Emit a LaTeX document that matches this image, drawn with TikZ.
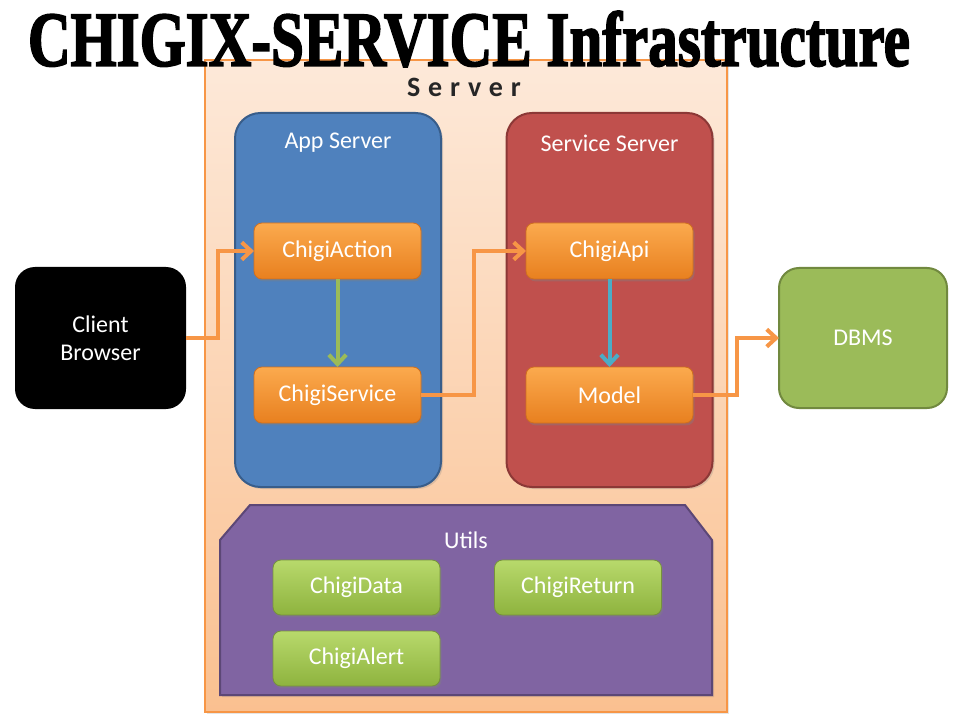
\documentclass[tikz,border=0pt]{standalone}
\usepackage{fontspec}
\setmainfont{Carlito}
\newfontfamily\titlefont[BoldFont={Liberation Serif Bold}, BoldFeatures={FakeBold=2.5}]{Liberation Serif}
\newfontfamily\serverfont[LetterSpace=28]{Carlito}
\usetikzlibrary{arrows.meta,shadows}
\definecolor{srvtop}{HTML}{FDE9D9}
\definecolor{srvbot}{HTML}{FAC090}
\definecolor{srvborder}{HTML}{F79646}
\definecolor{appfill}{HTML}{4F81BD}
\definecolor{appborder}{HTML}{385D8A}
\definecolor{svcfill}{HTML}{C0504D}
\definecolor{svcborder}{HTML}{8C3836}
\definecolor{utilfill}{HTML}{8064A2}
\definecolor{utilborder}{HTML}{5C4776}
\definecolor{orgtop}{HTML}{FBAA4E}
\definecolor{orgbot}{HTML}{E8801F}
\definecolor{orgborder}{HTML}{D06F1E}
\definecolor{grntop}{HTML}{B8D96C}
\definecolor{grnbot}{HTML}{8EB33E}
\definecolor{grnborder}{HTML}{76923C}
\definecolor{dbfill}{HTML}{9BBB59}
\definecolor{dbborder}{HTML}{71893F}
\definecolor{linkorange}{HTML}{F79646}
\definecolor{linkgreen}{HTML}{9BBB59}
\definecolor{linkblue}{HTML}{4BACC6}
\tikzset{
  boxbase/.style={inner sep=0pt, outer sep=0pt, text=white, font=\fontsize{18}{21}\selectfont, align=center},
  container/.style={boxbase, rounded corners=19pt, line width=1.5pt,
    minimum width=154.5pt, minimum height=280.5pt,
    drop shadow={opacity=0.25, shadow xshift=1.5pt, shadow yshift=-1.5pt}},
  orangebtn/.style={boxbase, rounded corners=6pt, draw=orgborder, line width=0.6pt,
    top color=orgtop, bottom color=orgbot, minimum width=125.25pt, minimum height=42pt,
    drop shadow={opacity=0.4, shadow xshift=1.2pt, shadow yshift=-1.8pt}},
  greenbtn/.style={boxbase, rounded corners=6pt, draw=grnborder, line width=0.6pt,
    top color=grntop, bottom color=grnbot, minimum width=125.25pt, minimum height=41.25pt,
    drop shadow={opacity=0.4, shadow xshift=1.2pt, shadow yshift=-1.8pt}},
  bigbox/.style={boxbase, rounded corners=15pt},
  lbl/.style={text=white, font=\fontsize{18}{21}\selectfont, inner sep=0pt},
  link/.style={line width=3pt, line join=miter,
    -{Straight Barb[length=7pt, width=13pt, line width=3pt]}},
}
\begin{document}
\begin{tikzpicture}[x=0.75pt, y=-0.75pt]
\useasboundingbox (0,0) rectangle (960,720);
\fill[white] (0,0) rectangle (960,720);

% Server frame
\node[inner sep=0pt, outer sep=0pt, draw=srvborder, line width=0.8pt,
  top color=srvtop, bottom color=srvbot,
  minimum width=391.5pt, minimum height=489pt,
  drop shadow={opacity=0.2, shadow xshift=1.5pt, shadow yshift=-1.5pt}] (server) at (466,386) {};
\node[inner sep=0pt, anchor=base, text=black!85, font=\serverfont\bfseries\fontsize{21}{25}\selectfont] (serverlbl) at (464,97) {Server};

% Title
\node[inner sep=0pt, outer sep=0pt] (title) at (469,39)
  {\resizebox{661.5pt}{41pt}{\titlefont\bfseries CHIGIX-SERVICE Infrastructure}};

% Containers
\node[container, fill=appfill, draw=appborder] (app) at (338,300) {};
\node[lbl] (applbl) at (338,143) {App Server};
\node[container, fill=svcfill, draw=svcborder] (svc) at (609.5,300) {};
\node[lbl] (svclbl) at (609.5,143) {Service Server};

% Utils
\path[fill=utilfill, draw=utilborder, line width=1.5pt,
  drop shadow={opacity=0.25, shadow xshift=1.5pt, shadow yshift=-1.5pt}]
  (220,540) -- (250,505) -- (685,505) -- (712,540) -- (712,695) -- (220,695) -- cycle;
\node[lbl] (utilslbl) at (466,540) {Utils};

% Buttons
\node[orangebtn] (action) at (337.5,251) {ChigiAction};
\node[orangebtn] (service) at (337.5,395) {ChigiService};
\node[orangebtn] (api) at (609.5,251) {ChigiApi};
\node[orangebtn] (model) at (609.5,395) {Model};
\node[greenbtn] (data) at (356.5,587.5) {ChigiData};
\node[greenbtn] (ret) at (578,587.5) {ChigiReturn};
\node[greenbtn] (alert) at (356.5,658.5) {ChigiAlert};

% Outside boxes
\node[bigbox, fill=black, minimum width=128.25pt, minimum height=106.5pt] (client) at (100.5,338) {Client\\Browser};
\node[bigbox, fill=dbfill, draw=dbborder, line width=1.5pt, minimum width=126pt, minimum height=105pt] (dbms) at (863,338) {DBMS};

% Connectors
\draw[link, draw=linkorange] (client.east) -- ++(32,0) |- (action.west);
\draw[link, draw=linkorange] (service.east) -- ++(53,0) |- (api.west);
\draw[link, draw=linkorange] (model.east) -- ++(44,0) |- (dbms.west);
\draw[link, draw=linkgreen] (action.south) -- (service.north);
\draw[link, draw=linkblue] (api.south) -- (model.north);
\end{tikzpicture}
\end{document}
